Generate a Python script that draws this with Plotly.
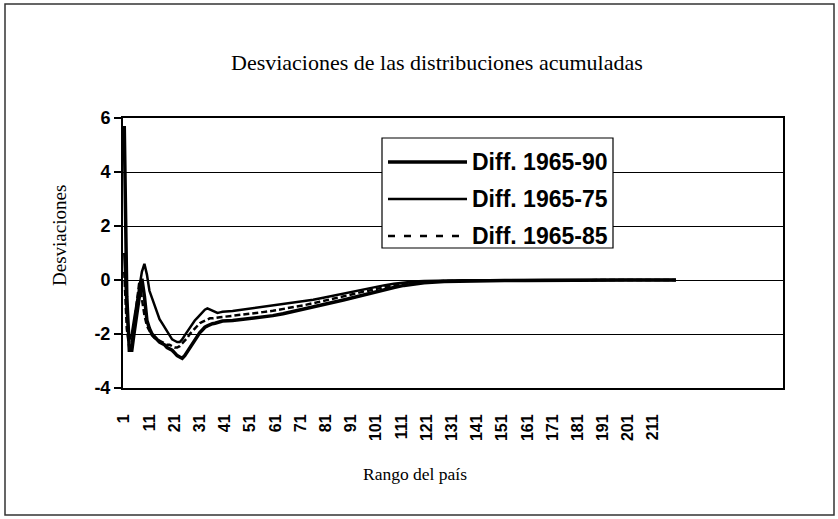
import plotly.graph_objects as go

# ---- data ----
rango = list(range(1, 41)) + list(range(44, 121, 4)) + list(range(128, 217, 8)) + [220]

diff_1965_90 = [5.7, -0.6, -2.6, -2.6, -1.9, -1.2, -0.6, 0.05, -0.6, -1.5,
                -1.8, -2.0, -2.1, -2.2, -2.3, -2.35, -2.4, -2.5, -2.55, -2.6,
                -2.7, -2.8, -2.85, -2.9, -2.8, -2.65, -2.5, -2.35, -2.2, -2.05,
                -1.95, -1.85, -1.75, -1.7, -1.65, -1.62, -1.6, -1.57, -1.55, -1.52,
                -1.5, -1.46, -1.42, -1.37, -1.32, -1.25, -1.17, -1.09, -1.0, -0.92,
                -0.83, -0.74, -0.65, -0.55, -0.46, -0.37, -0.28, -0.2, -0.14, -0.1,
                -0.06, -0.04, -0.03, -0.02, -0.02, -0.01, -0.01, -0.01, -0.01, 0.0, 0.0, 0.0,
                0.0]

diff_1965_75 = [1.0, -1.2, -2.2, -2.0, -1.4, -0.8, -0.2, 0.3, 0.6, 0.2,
                -0.4, -0.65, -0.9, -1.2, -1.45, -1.6, -1.75, -1.95, -2.1, -2.2,
                -2.25, -2.3, -2.3, -2.2, -2.05, -1.9, -1.75, -1.6, -1.5, -1.4,
                -1.3, -1.2, -1.1, -1.05, -1.1, -1.15, -1.2, -1.22, -1.2, -1.18,
                -1.15, -1.1, -1.05, -1.0, -0.95, -0.9, -0.85, -0.8, -0.73, -0.66,
                -0.58, -0.5, -0.42, -0.34, -0.27, -0.2, -0.14, -0.09, -0.06, -0.04,
                -0.02, -0.01, -0.01, 0.0, 0.0, 0.0, 0.0, 0.0, 0.0, 0.0, 0.0, 0.0,
                0.0]

diff_1965_85 = [0.3, -1.8, -2.5, -2.3, -1.6, -0.9, -0.05, -0.7, -1.3, -1.7,
                -1.9, -2.05, -2.15, -2.2, -2.25, -2.3, -2.35, -2.4, -2.4, -2.45,
                -2.5, -2.5, -2.45, -2.35, -2.25, -2.15, -2.0, -1.9, -1.8, -1.7,
                -1.6, -1.55, -1.5, -1.45, -1.42, -1.42, -1.4, -1.4, -1.38, -1.37,
                -1.33, -1.29, -1.24, -1.19, -1.14, -1.08, -1.01, -0.94, -0.86, -0.78,
                -0.7, -0.61, -0.52, -0.43, -0.35, -0.27, -0.2, -0.14, -0.09, -0.06,
                -0.04, -0.02, -0.02, -0.01, -0.01, -0.01, 0.0, 0.0, 0.0, 0.0, 0.0, 0.0,
                0.0]

x_ticks = list(range(1, 212, 10))
y_ticks = [-4, -2, 0, 2, 4, 6]

series_names = ["Diff. 1965-90", "Diff. 1965-75", "Diff. 1965-85"]

# ---- figure ----
W, H = 838, 519
L, R, T, B = 123, 783, 118, 388

fig = go.Figure()
fig.add_trace(go.Scatter(x=rango, y=diff_1965_75, mode="lines", name=series_names[1],
                         line=dict(color="black", width=2.5), showlegend=False))
fig.add_trace(go.Scatter(x=rango, y=diff_1965_85, mode="lines", name=series_names[2],
                         line=dict(color="black", width=2.5, dash="6px,3px"), showlegend=False))
fig.add_trace(go.Scatter(x=rango, y=diff_1965_90, mode="lines", name=series_names[0],
                         line=dict(color="black", width=3.5), showlegend=False))

def px(xp):
    return (xp - L) / (R - L)

def py(yp):
    return (B - yp) / (B - T)

shapes = []
# outer frame
shapes.append(dict(type="rect", xref="paper", yref="paper",
                   x0=px(5), x1=px(834), y0=py(515), y1=py(4),
                   line=dict(color="#333", width=1.5), layer="below"))
# legend box
shapes.append(dict(type="rect", xref="paper", yref="paper",
                   x0=px(382), x1=px(613), y0=py(248), y1=py(138),
                   line=dict(color="black", width=1.2), fillcolor="white", layer="above"))
row_y = [162, 199, 236]
styles = [dict(color="black", width=3.5), dict(color="black", width=2.5),
          dict(color="black", width=2.5, dash="7px,9px")]
annotations = []
for name, yy, st in zip(series_names, row_y, styles):
    shapes.append(dict(type="line", xref="paper", yref="paper",
                       x0=px(388), x1=px(467), y0=py(yy), y1=py(yy), line=st, layer="above"))
    annotations.append(dict(text="<b>" + name + "</b>", xref="paper", yref="paper", x=px(470), y=py(yy),
                            xanchor="left", yanchor="middle", showarrow=False,
                            font=dict(family="Liberation Sans, Arial", size=23, color="black")))

annotations.append(dict(text="Desviaciones de las distribuciones acumuladas",
                        xref="paper", yref="paper", x=px(437), y=py(63),
                        xanchor="center", yanchor="middle", showarrow=False,
                        font=dict(family="Liberation Serif, Times New Roman", size=22, color="black")))
annotations.append(dict(text="Rango del país",
                        xref="paper", yref="paper", x=px(415), y=py(474),
                        xanchor="center", yanchor="middle", showarrow=False,
                        font=dict(family="Liberation Serif, Times New Roman", size=17.5, color="black")))
annotations.append(dict(text="Desviaciones",
                        xref="paper", yref="paper", x=px(59), y=py(236), textangle=-90,
                        xanchor="center", yanchor="middle", showarrow=False,
                        font=dict(family="Liberation Serif, Times New Roman", size=19, color="black")))

fig.update_layout(
    width=W, height=H,
    margin=dict(l=L, r=W - R, t=T, b=H - B, pad=0),
    paper_bgcolor="white", plot_bgcolor="white",
    shapes=shapes, annotations=annotations,
    showlegend=False,
)
fig.update_xaxes(range=[0.5, 262.5], tickvals=x_ticks, ticktext=["<b>%d</b>" % v for v in x_ticks],
                 tickangle=-90, ticks="", ticklabelstandoff=18,
                 tickfont=dict(family="Liberation Sans, Arial", size=16, color="black"),
                 showgrid=False, zeroline=False, showline=True, linecolor="black", linewidth=2,
                 mirror=True)
fig.update_yaxes(range=[-4, 6], tickvals=y_ticks, ticktext=["<b>%d</b>" % v for v in y_ticks],
                 ticks="outside", ticklen=7, tickcolor="black", tickwidth=1.5,
                 tickfont=dict(family="Liberation Sans, Arial", size=18, color="black"),
                 showgrid=True, gridcolor="black", gridwidth=1.4, zeroline=False,
                 showline=True, linecolor="black", linewidth=2, mirror=True)

fig.write_html("out.html", config={"displayModeBar": False},
               post_script="document.body.style.margin='0';document.body.style.overflow='hidden';")
